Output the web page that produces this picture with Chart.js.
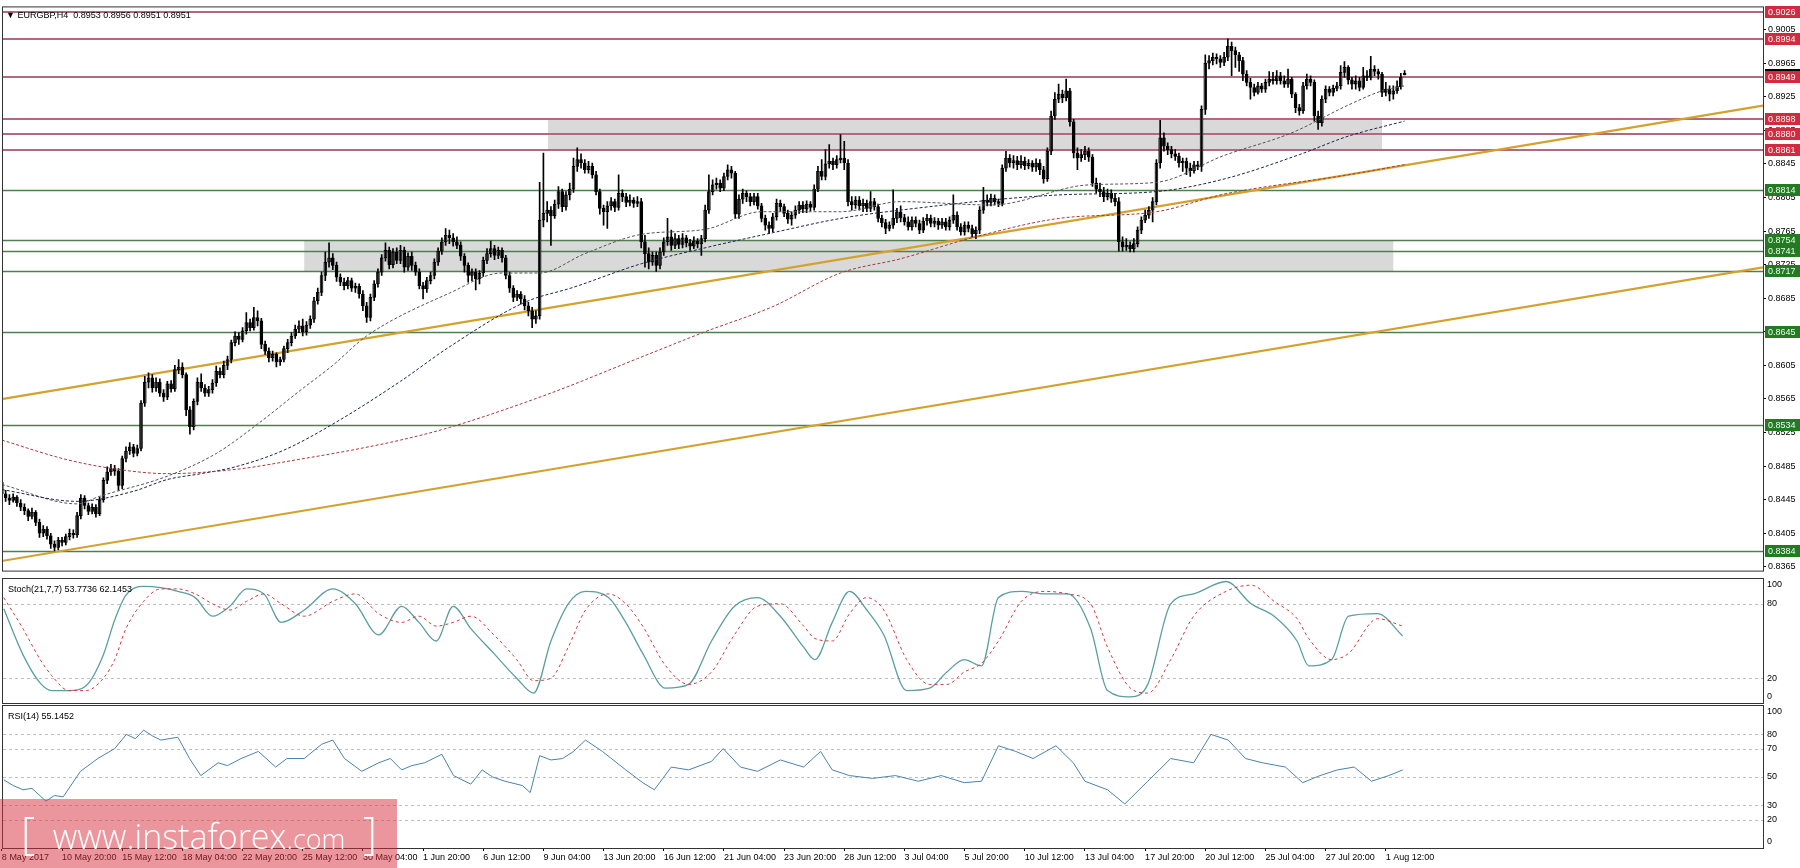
<!DOCTYPE html>
<html>
<head>
<meta charset="utf-8">
<title>EURGBP,H4</title>
<script src="https://cdn.jsdelivr.net/npm/chart.js@4.4.0/dist/chart.umd.min.js"></script>
<style>
  body { margin: 0; background: #fff; width: 1800px; height: 868px; overflow: hidden; position: relative; }
  canvas { position: absolute; left: 0; }
  #main { top: 0; }
  #stoch { top: 577px; }
  #rsi { top: 703px; }
  #wm { position: absolute; left: 0; top: 799px; width: 397px; height: 69px; background: rgba(215, 45, 60, 0.5); color: #fff; white-space: nowrap; font-family: 'Open Sans', 'Liberation Sans', sans-serif; font-weight: 300; }
  #wm .t { position: absolute; left: 21px; top: 4px; line-height: 58px; font-size: 34px; }
  #wm .br { font-size: 44px; }
  #wm .c { font-size: 27px; }
</style>
</head>
<body>
<canvas id="main" width="1800" height="578"></canvas>
<canvas id="stoch" width="1800" height="128"></canvas>
<canvas id="rsi" width="1800" height="165"></canvas>
<div id="wm"><div class="t"><span class="br">[</span>&nbsp;&nbsp;www.instaforex<span class="c">.com</span>&nbsp;&nbsp;<span class="br">]</span></div></div>
<script>
// x axis: bar index of each time label (one label every 16 H4 bars) and its text
const xTickIdx = [0, 16, 32, 48, 64, 80, 96, 112, 128, 144, 160, 176, 192, 208, 224, 240, 256, 272, 288, 304, 320, 336, 352, 368];
const xTickText = ['8 May 2017', '10 May 20:00', '15 May 12:00', '18 May 04:00', '22 May 20:00', '25 May 12:00',
  '30 May 04:00', '1 Jun 20:00', '6 Jun 12:00', '9 Jun 04:00', '13 Jun 20:00', '16 Jun 12:00', '21 Jun 04:00',
  '23 Jun 20:00', '28 Jun 12:00', '3 Jul 04:00', '5 Jul 20:00', '10 Jul 12:00', '13 Jul 04:00', '17 Jul 20:00',
  '20 Jul 12:00', '25 Jul 04:00', '27 Jul 20:00', '1 Aug 12:00'];

// price axis labels
const priceTicks = [0.8365, 0.8405, 0.8445, 0.8485, 0.8525, 0.8565, 0.8605, 0.8645, 0.8685, 0.8725, 0.8765,
  0.8805, 0.8845, 0.8885, 0.8925, 0.8965, 0.9005];

// EURGBP H4 candles, prices in pips (price * 10000)
const barOpen = [
  8466,8452,8447,8444,8448,8441,8436,8432,8425,8430, 8418,8405,8410,8402,8392,8388,8397,8394,8401,8405,
  8403,8426,8447,8438,8431,8436,8428,8445,8468,8478, 8482,8479,8462,8494,8503,8508,8500,8506,8560,8585,
  8590,8578,8585,8572,8567,8583,8577,8600,8603,8594, 8552,8532,8562,8585,8578,8572,8576,8584,8598,8594,
  8605,8612,8632,8640,8636,8646,8656,8650,8662,8658, 8630,8622,8614,8618,8609,8612,8625,8632,8640,8648,
  8652,8645,8653,8660,8682,8692,8712,8728,8733,8724, 8710,8704,8700,8706,8697,8699,8690,8676,8662,8686,
  8702,8716,8733,8742,8725,8740,8730,8742,8722,8735, 8724,8716,8700,8696,8706,8712,8728,8741,8752,8760,
  8757,8752,8748,8735,8724,8712,8716,8708,8715,8730, 8738,8744,8736,8742,8733,8712,8697,8686,8690,8684,
  8676,8670,8660,8664,8778,8786,8790,8783,8797,8812, 8794,8808,8815,8842,8850,8846,8838,8842,8832,8812,
  8792,8788,8795,8800,8793,8810,8806,8799,8802,8798, 8800,8752,8738,8728,8736,8724,8740,8752,8758,8748,
  8756,8749,8757,8751,8747,8753,8750,8756,8790,8812, 8820,8822,8816,8830,8838,8834,8785,8803,8810,8806,
  8800,8806,8795,8780,8772,8768,8782,8798,8794,8786, 8779,8784,8790,8796,8791,8797,8793,8815,8836,8830,
  8845,8848,8844,8850,8852,8846,8800,8796,8802,8795, 8798,8792,8800,8794,8780,8775,8768,8772,8780,8788,
  8781,8776,8770,8778,8774,8766,8777,8780,8774,8777, 8772,8776,8770,8778,8784,8770,8764,8772,8768,8762,
  8766,8790,8802,8799,8804,8800,8798,8840,8852,8846, 8849,8844,8848,8843,8846,8841,8846,8838,8827,8860,
  8902,8922,8928,8924,8932,8895,8858,8852,8856,8860, 8853,8822,8815,8812,8806,8810,8804,8800,8752,8746,
  8748,8744,8750,8766,8778,8784,8790,8800,8846,8876, 8866,8862,8857,8854,8846,8848,8840,8837,8844,8842,
  8910,8965,8968,8972,8970,8966,8972,8985,8980,8975, 8968,8952,8942,8936,8930,8938,8934,8942,8946,8944,
  8950,8944,8940,8946,8928,8912,8908,8938,8946,8942, 8902,8894,8922,8934,8930,8935,8938,8954,8960,8945,
  8940,8944,8936,8950,8948,8958,8955,8952,8930,8934, 8928,8932,8937,8953];
const barHigh = [
  8470,8456,8451,8452,8450,8445,8440,8434,8435,8432, 8422,8414,8413,8405,8396,8400,8400,8404,8410,8409,
  8430,8451,8450,8441,8440,8439,8448,8471,8484,8487, 8486,8482,8497,8508,8513,8511,8510,8563,8592,8596,
  8594,8590,8589,8576,8586,8587,8605,8612,8608,8596, 8556,8565,8590,8595,8582,8580,8588,8604,8602,8610,
  8616,8635,8645,8644,8650,8668,8660,8674,8670,8661, 8634,8626,8622,8620,8615,8628,8636,8644,8653,8658,
  8660,8657,8664,8686,8697,8716,8740,8751,8738,8728, 8714,8709,8710,8709,8703,8702,8694,8680,8690,8706,
  8720,8737,8751,8746,8744,8745,8748,8746,8739,8740, 8728,8720,8704,8710,8716,8732,8745,8757,8768,8766,
  8762,8758,8752,8738,8727,8720,8720,8718,8734,8744, 8753,8748,8746,8745,8736,8716,8700,8694,8693,8688,
  8680,8674,8670,8823,8858,8800,8794,8802,8818,8815, 8812,8822,8852,8864,8857,8850,8848,8846,8836,8815,
  8796,8800,8805,8803,8832,8814,8810,8808,8805,8806, 8804,8760,8745,8740,8740,8745,8757,8780,8766,8762,
  8760,8762,8760,8755,8758,8756,8760,8796,8832,8826, 8828,8826,8834,8844,8842,8836,8808,8815,8813,8810,
  8810,8810,8798,8784,8776,8786,8803,8802,8797,8790, 8788,8795,8800,8800,8801,8800,8820,8842,8850,8862,
  8868,8852,8855,8880,8872,8850,8806,8806,8806,8803, 8802,8812,8804,8797,8784,8779,8776,8814,8792,8795,
  8785,8782,8782,8782,8778,8781,8785,8784,8781,8780, 8780,8780,8782,8808,8788,8774,8776,8776,8772,8770,
  8794,8817,8808,8809,8808,8803,8844,8860,8856,8855, 8854,8855,8853,8850,8849,8851,8850,8842,8864,8908,
  8930,8940,8933,8946,8935,8898,8864,8862,8866,8864, 8856,8828,8822,8817,8815,8814,8810,8805,8758,8756,
  8752,8756,8770,8782,8790,8794,8805,8850,8897,8882, 8870,8866,8862,8858,8852,8852,8846,8848,8848,8914,
  8975,8974,8977,8976,8974,8978,8994,8990,8984,8978, 8972,8956,8947,8940,8942,8941,8946,8955,8954,8956,
  8954,8950,8958,8948,8930,8916,8942,8952,8950,8945, 8908,8926,8938,8937,8939,8942,8962,8967,8962,8948,
  8950,8948,8960,8956,8973,8962,8958,8954,8942,8938, 8938,8944,8953,8956];
const barLow = [
  8448,8443,8439,8442,8437,8432,8427,8420,8422,8414, 8400,8401,8398,8387,8384,8385,8390,8391,8397,8399,
  8400,8422,8434,8427,8428,8424,8426,8442,8464,8474, 8474,8456,8458,8490,8499,8496,8497,8503,8556,8578,
  8573,8574,8568,8562,8564,8573,8574,8595,8590,8545, 8523,8528,8558,8574,8568,8568,8572,8580,8590,8590,
  8600,8608,8628,8630,8633,8642,8646,8647,8652,8625, 8618,8609,8610,8603,8605,8609,8620,8628,8637,8644,
  8640,8641,8649,8656,8678,8688,8706,8722,8719,8705, 8700,8695,8696,8693,8692,8685,8670,8656,8658,8682,
  8698,8712,8729,8720,8721,8726,8726,8716,8718,8718, 8712,8696,8684,8692,8702,8708,8724,8737,8748,8750,
  8747,8744,8730,8716,8704,8706,8695,8702,8711,8726, 8734,8731,8732,8728,8708,8692,8681,8682,8678,8671,
  8664,8650,8655,8660,8770,8776,8748,8780,8792,8788, 8790,8802,8811,8836,8840,8834,8834,8828,8808,8785,
  8772,8768,8790,8788,8790,8800,8794,8795,8793,8794, 8745,8722,8720,8724,8717,8720,8736,8748,8742,8744,
  8744,8745,8746,8742,8744,8745,8736,8752,8786,8808, 8815,8812,8813,8826,8828,8780,8780,8798,8800,8795,
  8796,8791,8776,8766,8762,8764,8778,8789,8782,8774, 8772,8780,8786,8787,8787,8789,8790,8812,8826,8826,
  8840,8838,8840,8846,8838,8795,8790,8792,8790,8788, 8788,8788,8790,8776,8770,8762,8765,8768,8775,8776,
  8772,8766,8766,8770,8762,8763,8772,8770,8770,8767, 8768,8766,8766,8774,8766,8760,8760,8764,8758,8756,
  8762,8786,8795,8795,8796,8794,8795,8836,8841,8840, 8838,8840,8838,8839,8836,8836,8832,8822,8824,8856,
  8898,8918,8918,8920,8890,8852,8838,8848,8850,8848, 8818,8810,8806,8800,8802,8799,8795,8741,8741,8742,
  8740,8740,8746,8762,8775,8780,8776,8796,8840,8860, 8856,8852,8849,8841,8836,8832,8830,8834,8838,8836,
  8904,8958,8963,8964,8960,8962,8968,8950,8960,8955, 8944,8938,8922,8926,8928,8930,8930,8938,8940,8940,
  8940,8936,8936,8924,8906,8903,8905,8934,8938,8896, 8886,8890,8918,8926,8926,8932,8934,8948,8940,8934,
  8934,8932,8934,8944,8945,8950,8946,8925,8926,8920, 8922,8929,8934,8951];
const barClose = [
  8452,8447,8444,8448,8441,8436,8432,8425,8430,8418, 8405,8410,8402,8392,8388,8397,8394,8401,8405,8403,
  8426,8447,8438,8431,8436,8428,8445,8468,8478,8482, 8479,8462,8494,8503,8508,8500,8506,8560,8585,8590,
  8578,8585,8572,8567,8583,8577,8600,8603,8594,8552, 8532,8562,8585,8578,8572,8576,8584,8598,8594,8605,
  8612,8632,8640,8636,8646,8656,8650,8662,8658,8630, 8622,8614,8618,8609,8612,8625,8632,8640,8648,8652,
  8645,8653,8660,8682,8692,8712,8728,8733,8724,8710, 8704,8700,8706,8697,8699,8690,8676,8662,8686,8702,
  8716,8733,8742,8725,8740,8730,8742,8722,8735,8724, 8716,8700,8696,8706,8712,8728,8741,8752,8760,8757,
  8752,8748,8735,8724,8712,8716,8708,8715,8730,8738, 8744,8736,8742,8733,8712,8697,8686,8690,8684,8676,
  8670,8660,8664,8778,8786,8790,8783,8797,8812,8794, 8808,8815,8842,8850,8846,8838,8842,8832,8812,8792,
  8788,8795,8800,8793,8810,8806,8799,8802,8798,8800, 8752,8738,8728,8736,8724,8740,8752,8758,8748,8756,
  8749,8757,8751,8747,8753,8750,8756,8790,8812,8820, 8822,8816,8830,8838,8834,8785,8803,8810,8806,8800,
  8806,8795,8780,8772,8768,8782,8798,8794,8786,8779, 8784,8790,8796,8791,8797,8793,8815,8836,8830,8845,
  8848,8844,8850,8852,8846,8800,8796,8802,8795,8798, 8792,8800,8794,8780,8775,8768,8772,8780,8788,8781,
  8776,8770,8778,8774,8766,8777,8780,8774,8777,8772, 8776,8770,8778,8784,8770,8764,8772,8768,8762,8766,
  8790,8802,8799,8804,8800,8798,8840,8852,8846,8849, 8844,8848,8843,8846,8841,8846,8838,8827,8860,8902,
  8922,8928,8924,8932,8895,8858,8852,8856,8860,8853, 8822,8815,8812,8806,8810,8804,8800,8752,8746,8748,
  8744,8750,8766,8778,8784,8790,8800,8846,8876,8866, 8862,8857,8854,8846,8848,8840,8837,8844,8842,8910,
  8965,8968,8972,8970,8966,8972,8985,8980,8975,8968, 8952,8942,8936,8930,8938,8934,8942,8946,8944,8950,
  8944,8940,8946,8928,8912,8908,8938,8946,8942,8902, 8894,8922,8934,8930,8935,8938,8954,8960,8945,8940,
  8944,8936,8950,8948,8958,8955,8952,8930,8934,8928, 8932,8937,8948,8951];

// moving averages: bar index and value (pips)
const maFastX = [0, 20, 26, 44, 57, 68, 79, 88, 97, 119, 133, 143, 155, 170, 187, 202, 223, 239, 263, 289, 307, 325, 343, 358, 367, 373];
const maFastY = [8463, 8440, 8449, 8473, 8500, 8535, 8574, 8605, 8640, 8691, 8715, 8715, 8738, 8761, 8767, 8788, 8788, 8800, 8796, 8820, 8823, 8855, 8882, 8915, 8932, 8938];
const maMidX = [0, 20, 35, 44, 53, 62, 75, 88, 106, 119, 139, 152, 170, 187, 205, 223, 239, 281, 307, 325, 345, 358, 373];
const maMidY = [8457, 8443, 8455, 8469, 8476, 8484, 8504, 8535, 8586, 8627, 8680, 8698, 8726, 8745, 8763, 8780, 8790, 8808, 8812, 8827, 8856, 8878, 8896];
const maSlowX = [0, 17, 31, 44, 62, 79, 93, 106, 119, 146, 169, 187, 205, 223, 239, 258, 281, 307, 325, 358, 373];
const maSlowY = [8516, 8493, 8481, 8476, 8481, 8493, 8504, 8516, 8531, 8572, 8613, 8645, 8675, 8715, 8732, 8757, 8780, 8788, 8809, 8832, 8844];

// horizontal levels and zones
const redLevels = [0.9026, 0.8994, 0.8949, 0.8898, 0.8880, 0.8861];
const greenLevels = [0.8814, 0.8754, 0.8741, 0.8717, 0.8645, 0.8534, 0.8384];
const lastPrice = 0.8951;
const zoneFrom = [145.2, 80.4];
const zoneTo = [367, 370];
const zoneLow = [0.8861, 0.8717];
const zoneHigh = [0.8898, 0.8754];

// channel lines: end points (bar index, price)
const trendX = [0.3, 468.3];
const trendUpper = [0.85651, 0.89145];
const trendLower = [0.83722, 0.87217];

// Stochastic (21,7,7)
const stochX = [0.5,5.6,10.2,13.3,17.8,22.4,27,30,33,37.7, 42.2,46.8,51.4,56,60.6,65.1,69.7,74.3,80.4,88,
  94,100.2,106.3,110.9,115.5,120,124.7,130.8,136.9,141.4, 146,150.6,155.2,161.3,165.9,170.4,176.5,182.6,188.7,194.8,
  200.9,207,213.2,216.2,220.8,225.4,230,234.5,240.6,246.7, 251.3,255.9,260.5,265,271.1,277.3,283.4,289.5,294,300.1,
  304.7,310.8,316.9,325.5,332.2,338.3,344.4,347.5,353.6,358.1, 365.8,372.5];
const stochMain = [76,39,16,10,10,14,39,67,87,94, 93,90,85,70,78,92,88,65,75,92, 80,55,78,65,50,78,60,40,20,8,
  50,80,90,85,65,40,12,15,50,78, 85,70,45,35,65,90,75,55,10,12, 25,35,30,85,90,88,88,60,10,5,
  15,80,88,98,80,70,50,30,35,70, 72,54];
const stochSignal = [85,60,35,22,10,10,20,35,60,82, 92,92,88,80,75,82,88,80,70,82, 88,72,65,70,62,65,70,55,35,18,
  20,45,75,88,80,62,30,15,25,55, 78,80,62,52,50,72,85,75,35,15, 15,25,32,50,82,90,88,80,45,12,
  8,35,70,90,95,82,68,52,35,40, 68,62];
const stochLevels = [100, 80, 20, 0];

// RSI (14)
const rsiX = [0.5,3,5.6,8,11.7,14,16.3,20.9,25.5,30,33.1,35.5,37.7,40,42.3, 46.8,49.9,52.9,57.5,60,63.6,68.2,72.8,75.8,80.4,85,
  88,91.1,95.7,100.2,103.3,106.3,109,112.4,117,120.1,124.7, 127.7,130.5,133.8,138.4,140.5,143,146,149.1,152,155.2,159.7,165.9,170.4,
  173.5,178,182.6,188.7,191.8,196.4,200.9,204,207,213.2,217.7, 220.8,225.4,231.5,237.6,243.7,249.8,255.9,260.5,265,269.6,
  274.2,280.3,284.9,288,294,298.6,304.7,310.8,316.9,321.5, 326.1,330.7,335.2,341.3,345.9,350.5,355.1,359.6,364.2,368.8,
  372.5];
const rsiVal = [48,44,41,42,33,37,36,54,63,70,80,77,83,79,76, 78,63,51,60,58,63,68,57,63,63,73, 76,63,54,60,63,55,58,60,66,51,45,
  55,50,47,44,39,65,62,63,68,76,68,55,46, 41,57,55,61,70,57,54,58,62,57,68, 55,51,49,51,47,51,46,47,72,68,
  63,72,60,47,41,31,47,63,60,80, 76,63,60,57,46,51,55,57,47,51, 55];
const rsiLevels = [100, 80, 70, 50, 30, 20, 0];

const FONT = "'Liberation Sans', Arial, sans-serif";
const X_MIN = 0.3, X_MAX = 468.3;

function xScale(show) {
  const s = {
    type: 'linear', min: X_MIN, max: X_MAX, offset: false, display: show,
    afterBuildTicks: sc => { sc.ticks = xTickIdx.map(v => ({ value: v })); },
    ticks: { autoSkip: false, maxRotation: 0, align: 'start', padding: 1, color: '#000',
      font: { family: FONT, size: 9 }, callback: (v, i) => xTickText[i] },
    grid: { drawOnChartArea: false, tickLength: 3, color: '#000' },
    border: { color: '#000' }
  };
  if (show) s.afterFit = sc => { sc.height = 20; };
  return s;
}

function frame(chart) {
  const a = chart.chartArea, c = chart.ctx;
  c.save();
  c.strokeStyle = '#333';
  c.lineWidth = 1;
  c.strokeRect(a.left - 0.5, a.top - 0.5, a.right - a.left + 1, a.bottom - a.top + 1);
  c.restore();
}

function levelLine(ctx, a, yy, color, w) {
  ctx.strokeStyle = color;
  ctx.lineWidth = w;
  ctx.beginPath();
  ctx.moveTo(a.left, yy);
  ctx.lineTo(a.right, yy);
  ctx.stroke();
}

const mainDeco = {
  id: 'mainDeco',
  beforeDatasetsDraw(chart) {
    const { ctx, chartArea: a, scales: { x, y } } = chart;
    ctx.save();
    ctx.beginPath();
    ctx.rect(a.left, a.top, a.right - a.left, a.bottom - a.top);
    ctx.clip();
    // grey zones
    ctx.fillStyle = '#d9d9d9';
    zoneFrom.forEach((f, i) => {
      const x0 = x.getPixelForValue(f), x1 = x.getPixelForValue(zoneTo[i]);
      const y0 = y.getPixelForValue(zoneHigh[i]), y1 = y.getPixelForValue(zoneLow[i]);
      ctx.fillRect(x0, y0, x1 - x0, y1 - y0);
    });
    // support / resistance
    redLevels.forEach(v => levelLine(ctx, a, Math.round(y.getPixelForValue(v)), '#b06a80', 2));
    greenLevels.forEach(v => levelLine(ctx, a, Math.round(y.getPixelForValue(v)) + 0.5, '#4f7f4f', 1.5));
    // channel
    ctx.strokeStyle = '#d4a22c';
    ctx.lineWidth = 2.2;
    [trendUpper, trendLower].forEach(t => {
      ctx.beginPath();
      ctx.moveTo(x.getPixelForValue(trendX[0]), y.getPixelForValue(t[0]));
      ctx.lineTo(x.getPixelForValue(trendX[1]), y.getPixelForValue(t[1]));
      ctx.stroke();
    });
    ctx.restore();
  },
  afterDraw(chart) {
    const { ctx, chartArea: a, scales: { y } } = chart;
    frame(chart);
    ctx.save();
    ctx.font = '9px ' + FONT;
    ctx.textBaseline = 'middle';
    const box = (v, bg, fg) => {
      const yy = Math.round(y.getPixelForValue(v));
      ctx.fillStyle = bg;
      ctx.fillRect(a.right + 2, yy - 6, 36, 12);
      ctx.fillStyle = fg;
      ctx.fillText(v.toFixed(4), a.right + 5, yy + 0.5);
    };
    box(lastPrice, '#000', '#fff');
    redLevels.forEach(v => box(v, '#d42a40', '#fff'));
    greenLevels.forEach(v => box(v, '#237a23', '#e8ffe8'));
    ctx.fillStyle = '#000';
    ctx.font = '9px ' + FONT;
    ctx.fillText('\u25BC EURGBP,H4  0.8953 0.8956 0.8951 0.8951', a.left + 3, a.top + 8);
    ctx.restore();
  }
};

function indicatorDeco(id, levels, title) {
  return {
    id,
    beforeDatasetsDraw(chart) {
      const { ctx, chartArea: a, scales: { y } } = chart;
      ctx.save();
      ctx.setLineDash([3, 3]);
      levels.slice(1, -1).forEach(v => levelLine(ctx, a, Math.round(y.getPixelForValue(v)) + 0.5, '#c0c0c0', 1));
      ctx.restore();
    },
    afterDraw(chart) {
      const { ctx, chartArea: a, scales: { y } } = chart;
      frame(chart);
      ctx.save();
      ctx.font = '9px ' + FONT;
      ctx.textBaseline = 'middle';
      ctx.fillStyle = '#000';
      levels.forEach((v, i) => {
        let yy = y.getPixelForValue(v);
        if (i === 0) yy += 6;
        if (i === levels.length - 1) yy -= 6;
        ctx.fillText(String(v), a.right + 4, yy);
      });
      ctx.fillText(title, a.left + 5, a.top + 11);
      ctx.restore();
    }
  };
}

function ySide(min, max) {
  return {
    type: 'linear', position: 'right', min, max,
    afterFit: s => { s.width = 37; },
    ticks: { display: false },
    grid: { drawOnChartArea: false, drawTicks: false },
    border: { color: '#000' }
  };
}

const bars = barOpen.map((o, i) => i);

new Chart(document.getElementById('main'), {
  type: 'bar',
  data: {
    datasets: [
      { type: 'line', data: maSlowX.map((v, i) => ({ x: v, y: maSlowY[i] / 10000 })), borderColor: '#a83a3a',
        borderWidth: 1, borderDash: [3, 2], pointRadius: 0, cubicInterpolationMode: 'monotone' },
      { type: 'line', data: maMidX.map((v, i) => ({ x: v, y: maMidY[i] / 10000 })), borderColor: '#1c2450',
        borderWidth: 1, borderDash: [3, 2], pointRadius: 0, cubicInterpolationMode: 'monotone' },
      { type: 'line', data: maFastX.map((v, i) => ({ x: v, y: maFastY[i] / 10000 })), borderColor: '#555',
        borderWidth: 1, borderDash: [3, 2], pointRadius: 0, cubicInterpolationMode: 'monotone' },
      { data: bars.map(i => ({ x: i, y: [barLow[i] / 10000, barHigh[i] / 10000] })), backgroundColor: '#000',
        barThickness: 1, grouped: false },
      { data: bars.map(i => ({ x: i, y: [barOpen[i] / 10000, barClose[i] / 10000] })),
        backgroundColor: c => (barClose[c.dataIndex] >= barOpen[c.dataIndex] ? '#fff' : '#000'),
        borderColor: '#000', borderWidth: 1, borderSkipped: false, barThickness: 3, minBarLength: 1, grouped: false }
    ]
  },
  options: {
    responsive: false, animation: false, devicePixelRatio: 1,
    layout: { padding: { left: 3, top: 2, bottom: 2, right: 0 } },
    plugins: { legend: { display: false }, tooltip: { enabled: false } },
    scales: {
      x: xScale(false),
      y: {
        type: 'linear', position: 'right', min: 0.83605, max: 0.90314,
        afterBuildTicks: s => { s.ticks = priceTicks.map(v => ({ value: v })); },
        afterFit: s => { s.width = 37; },
        ticks: { color: '#000', padding: 2, font: { family: FONT, size: 9 }, callback: v => v.toFixed(4) },
        grid: { drawOnChartArea: false, tickLength: 3, color: '#000' },
        border: { color: '#000' }
      }
    }
  },
  plugins: [mainDeco]
});

new Chart(document.getElementById('stoch'), {
  type: 'line',
  data: {
    datasets: [
      { data: stochX.map((v, i) => ({ x: v, y: stochSignal[i] })), borderColor: '#d03a3a', borderWidth: 1,
        borderDash: [3, 3], pointRadius: 0, cubicInterpolationMode: 'monotone' },
      { data: stochX.map((v, i) => ({ x: v, y: stochMain[i] })), borderColor: '#5b9ea0', borderWidth: 1.3,
        pointRadius: 0, cubicInterpolationMode: 'monotone' }
    ]
  },
  options: {
    responsive: false, animation: false, devicePixelRatio: 1,
    layout: { padding: { left: 3, top: 2, bottom: 2, right: 0 } },
    plugins: { legend: { display: false }, tooltip: { enabled: false } },
    scales: { x: xScale(false), y: ySide(0, 100) }
  },
  plugins: [indicatorDeco('stochDeco', stochLevels, 'Stoch(21,7,7) 53.7736 62.1453')]
});

new Chart(document.getElementById('rsi'), {
  type: 'line',
  data: {
    datasets: [
      { data: rsiX.map((v, i) => ({ x: v, y: rsiVal[i] })), borderColor: '#4a82ad', borderWidth: 1,
        pointRadius: 0, tension: 0 }
    ]
  },
  options: {
    responsive: false, animation: false, devicePixelRatio: 1,
    layout: { padding: { left: 3, top: 3, bottom: 0, right: 0 } },
    plugins: { legend: { display: false }, tooltip: { enabled: false } },
    scales: { x: xScale(true), y: ySide(0, 100) }
  },
  plugins: [indicatorDeco('rsiDeco', rsiLevels, 'RSI(14) 55.1452')]
});
</script>
</body>
</html>
